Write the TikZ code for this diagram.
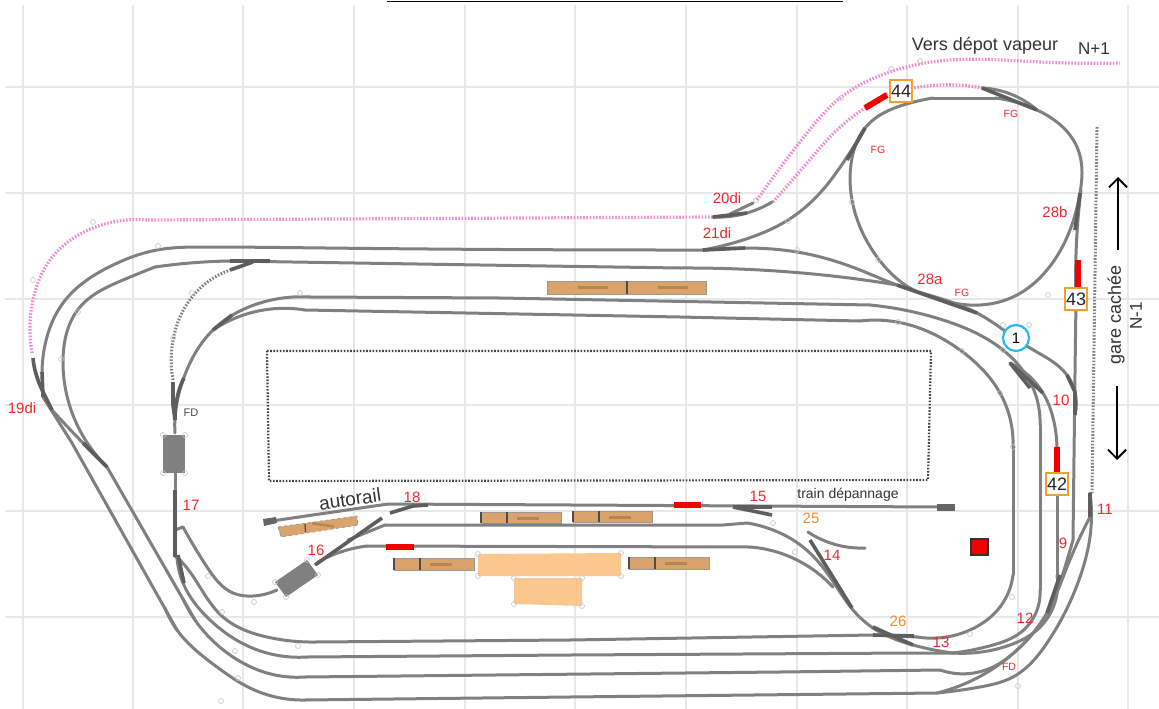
\documentclass[tikz,border=0pt]{standalone}
\usepackage{fontspec}
\setmainfont{Liberation Sans}
\usetikzlibrary{arrows.meta,hobby}
\definecolor{trk}{HTML}{808080}
\definecolor{trkd}{HTML}{5E5E5E}
\definecolor{gridc}{HTML}{E8E8E8}
\definecolor{pinkd}{HTML}{F08CCF}
\definecolor{brownb}{HTML}{D9A36B}
\definecolor{peach}{HTML}{FBC78F}
\definecolor{redt}{HTML}{F0282D}
\definecolor{oranget}{HTML}{F08C32}
\definecolor{boxo}{HTML}{F0A030}
\tikzset{
  x=1pt,y=-1pt,
  gridline/.style={gridc,line width=1.1pt},
  track/.style={trk,line width=3pt,line cap=round,line join=round,use Hobby shortcut},
  dark/.style={trkd,line width=3.6pt,line cap=butt},
  pinktrack/.style={pinkd,line width=3.2pt,dash pattern=on 1.6pt off 1.6pt,use Hobby shortcut},
  graytrack/.style={gray,line width=3pt,dash pattern=on 1.6pt off 1.6pt,use Hobby shortcut},
  redseg/.style={red!95!black,line width=6pt},
  handle/.style={draw=gray!45,line width=.6pt,circle,inner sep=0pt,minimum size=5pt},
  bench/.style={draw=gray!80,line width=.8pt,fill=brownb},
  benchmark/.style={brown!70!black,opacity=.4},
  lab/.style={text=redt,font=\fontsize{15}{15}\selectfont,inner sep=0pt},
  labs/.style={text=redt,font=\fontsize{10.5}{10.5}\selectfont,inner sep=0pt},
  labo/.style={text=oranget,font=\fontsize{15}{15}\selectfont,inner sep=0pt},
  txt/.style={text=black!80,font=\fontsize{18}{18}\selectfont,inner sep=0pt},
  numbox/.style={draw=boxo,line width=1.8pt,fill=white,minimum size=22pt,inner sep=0pt,font=\fontsize{18}{18}\selectfont,text=black!85},
}
\begin{document}
\begin{tikzpicture}
\useasboundingbox (0,0) rectangle (1159,709);
\fill[white] (0,0) rectangle (1159,709);
% grid
\foreach \x in {23,133,243,354,465,575,686,797,907,1018,1128}
  \draw[gridline] (\x,5) -- (\x,709);
\foreach \y in {87,193,299,405,511,617}
  \draw[gridline] (5,\y) -- (1159,\y);
% top rule
\draw[black,line width=1.8pt] (387,1.5) -- (843,1.5);
% dotted layout rectangle
\draw[black!75,line width=2.2pt,dash pattern=on 1.6pt off 1.6pt] (267,351) -- (931,351) -- (928,480) -- (269,481) -- cycle;
% benches
\draw[bench] (547,281) rectangle (706,294);
\draw[black!70,line width=1.2pt] (627,281) -- (627,294);
\fill[benchmark] (578,286) rectangle (608,288.5);
\fill[benchmark] (658,286) rectangle (688,288.5);
\foreach \a/\b/\c/\d/\e in {481/507/561/512/523,573/599/652/511/522,394/420/474/558/570,629/655/709/557/569}{
  \draw[bench] (\a,\d) rectangle (\c,\e);
  \draw[black!70,line width=1.2pt] (\b,\d) -- (\b,\e);
  \draw[black!70,line width=1.2pt] (\a,\d) -- (\a,\e);
  \fill[benchmark] (\b+10,\d+5) rectangle (\b+32,\d+7.5);
}
\draw[bench,dashed] (278,527) -- (357,516) -- (358,525) -- (281,537) -- cycle;
\draw[black!70,line width=1.2pt] (305,524) -- (305.5,532);
\fill[benchmark,rotate around={-8:(322,525)}] (312,523.5) rectangle (334,526);
\fill[peach] (478,554) -- (621,553) -- (621,576) -- (478,576) -- cycle;
\fill[peach] (514,578) -- (582,578) -- (582,606) -- (514,604) -- cycle;
\fill[trk] (163,435) rectangle (185,473);
\fill[trk] (275,582) -- (307,560) -- (318,575) -- (286,597) -- cycle;
% pink dotted tracks
\draw[pinktrack] (757,200) .. (807,133) .. (840,98) .. (890,72) .. (925,63) .. (1040,62) .. (1120,63);
\draw[pinktrack] (773,202) .. (807,163) .. (837,130) .. (865,108);
\draw[pinktrack] (883,95) .. (913,88) .. (957,85) .. (982,88);
\draw[pinktrack] (32,353) .. (33,300) .. (50,260) .. (93,228) .. (148,220);
\draw[pinkd,line width=3.2pt,dash pattern=on 1.6pt off 1.6pt] (148,220) -- (713,217);
% gray dotted
\draw[graytrack] (173,380) .. (173,340) .. (192,297) .. (230,270);
\draw[gray,line width=3pt,dash pattern=on 1.6pt off 1.6pt] (1097,127) -- (1092,493);
% long tracks
\draw[track] (42,372) .. (45,345) .. (63,303) .. (113,265) .. (157,250) .. (205,247) .. (325,248) .. (703,250);
\draw[track] (703,250) .. (745,248) .. (797,252) .. (860,270) .. (897,285) .. (977,313) .. (1030,348) .. (1067,375) .. (1075,392) .. (1075,415);
\draw[track] (155,267) .. (123,280) .. (80,307) .. (63,360) .. (68,400) .. (107,467);
\draw[track] (107,467) -- (195,620);
\draw[track] (183,599) .. (195,620) .. (233,657) .. (267,673) .. (305,677);
\draw[track] (305,677) -- (780,672) -- (940,670);
\draw[track] (940,670) .. (993,667) .. (1017,650) .. (1047,613) .. (1065,567) .. (1073,540);
\draw[track] (1073,540) -- (1075,373) -- (1076,300);
\draw[track] (1076,300) .. (1077,233) .. (1081,190);
\draw[track] (155,267) .. (190,263) .. (230,261);
\draw[track] (230,261) -- (480,265) -- (680,268);
\draw[track] (680,268) .. (790,272) .. (857,279) .. (897,285);
\draw[track] (43,397) -- (72,443) -- (177,630);
\draw[track] (165,608) .. (177,630) .. (217,667) .. (250,688) .. (305,700);
\draw[track] (305,700) -- (570,697) -- (937,693);
\draw[track] (937,693) .. (980,687) .. (1013,677) .. (1047,643) .. (1080,577) .. (1090,537) .. (1090,493);
\draw[track] (175,433) .. (175,417) .. (183,380) .. (213,330) .. (260,303) .. (310,297);
\draw[track] (310,297) -- (500,298) -- (870,305);
\draw[track] (870,305) .. (943,320) .. (1003,350) .. (1033,388) .. (1040,425);
\draw[track] (1040,425) -- (1040,590);
\draw[track] (1040,590) .. (1020,633) .. (993,645) .. (953,653);
\draw[track] (213,330) .. (250,313) .. (305,310);
\draw[track] (305,310) -- (680,317) -- (860,321);
\draw[track] (860,321) .. (897,322) .. (960,350) .. (1000,393) .. (1013,447);
\draw[track] (1013,447) -- (1013,575);
\draw[track] (1013,575) .. (1000,607) .. (970,630) .. (917,637);
\draw[track] (917,637) -- (873,635) -- (570,640) -- (315,642);
\draw[track] (315,642) .. (267,637) .. (223,617) .. (187,568) .. (177,557);
\draw[track] (177,557) .. (183,583) .. (210,620) .. (250,647) .. (307,657);
\draw[track] (307,657) -- (570,655) -- (913,653) -- (953,653);
\draw[track] (953,653) .. (1010,645) .. (1037,630) .. (1057,575);
\draw[track] (1057,575) -- (1057,447);
\draw[track] (1057,447) .. (1055,427) .. (1043,393) .. (1010,363);
\draw[track] (175,473) -- (175,557);
\draw[track] (183,527) .. (207,567) .. (233,593) .. (253,596) .. (277,590);
\draw[track] (175,530) -- (183,527);
\draw[track] (52,410) .. (83,443) .. (107,467);
% lower right crossover
\draw[track] (937,693) .. (973,680) .. (1017,650) .. (1047,613) .. (1067,567) .. (1090,517);
% circle loop
\draw[track] (937,298) .. (910,288) .. (877,257) .. (852,200) .. (852,158) .. (865,128) .. (910,103) .. (933,98);
\draw[track] (933,98) -- (995,98);
\draw[track] (995,98) .. (1037,110) .. (1077,147) .. (1082,173) .. (1080,193) .. (1070,230) .. (1047,270) .. (1013,297) .. (980,305) .. (937,298);
\draw[track] (982,88) .. (1013,95) .. (1037,110);
\draw[track] (703,250) .. (743,240) .. (788,220) .. (820,193) .. (843,163) .. (865,128);
\draw[track] (713,217) .. (747,213) .. (772,202);
\draw[track] (730,214) -- (753,203);
% yard
\draw[track] (388,504) -- (940,507);
\draw[track] (265,522) -- (388,504);
\draw[track] (385,525) -- (723,525) -- (747,523);
\draw[track] (747,523) .. (773,530) .. (803,547) .. (830,577) .. (853,610) .. (873,628) .. (913,645) .. (953,653);
\draw[track] (318,562) .. (347,550) .. (367,546);
\draw[track] (367,546) -- (750,547);
\draw[track] (750,547) .. (797,560) .. (833,587);
\draw[track] (808,532) .. (837,545) .. (865,548);
\draw[track] (348,540) -- (385,525);
% dark switch parts
\draw[dark] (413,506) -- (428,505);
\draw[dark] (390,513) -- (413,506);
\draw[dark] (315,565) -- (382,518);
\draw[dark] (733,507) -- (772,507);
\draw[dark] (733,507) -- (772,515);
\draw[dark] (810,540) -- (852,608);
\draw[dark] (873,635) -- (914,636);
\draw[dark] (873,627) -- (913,645);
\draw[dark] (33,358) .. controls (35,380) and (45,395) .. (52,410);
\draw[dark] (83,443) -- (107,467);
\draw[dark] (42,372) -- (43,397);
\draw[dark] (173,382) -- (173,405) -- (175,420);
\draw[dark] (175,420) .. controls (175,400) and (180,385) .. (184,378);
\draw[dark] (230,261) -- (270,261);
\draw[dark] (230,270) -- (253,262);
\draw[dark] (213,330) -- (232,315);
\draw[dark] (175,490) -- (175,557);
\draw[dark] (178,555) -- (184,583);
\draw[dark] (703,250) -- (745,248);
\draw[dark] (713,217) -- (747,213);
\draw[dark] (897,285) -- (977,313);
\draw[dark] (982,88) -- (1037,110);
\draw[dark] (865,128) -- (847,160);
\draw[dark] (1075,392) -- (1075,415);
\draw[dark] (1067,375) -- (1075,392);
\draw[dark] (1010,363) -- (1043,393);
\draw[dark] (1010,363) -- (1030,388);
\draw[dark] (1090,493) -- (1090,517);
\draw[dark] (1080,193) -- (1075,230);
\draw[dark] (1047,613) -- (1060,575);
% red sections
\draw[redseg] (674,505) -- (701,505);
\draw[redseg] (386,547) -- (414,547);
\draw[redseg] (865,108) -- (887,95);
\draw[redseg] (1078,260) -- (1078,288);
\draw[redseg] (1057,447) -- (1057,472);
\fill[red!95!black,draw=black!80,line width=1.4pt] (971,539) rectangle (988,555);
% rail vehicles
\fill[gray!80!black] (263,519) -- (276,517) -- (277,523) -- (264,526) -- cycle;
\fill[gray!80!black] (937,504) rectangle (955,511);
% handles
\foreach \p/\q in {920/61,891/69,841/98,756/200,852/202,878/260,788/221,797/250,1003/325,1029/325,1048/295,962/351,1003/350,1000/393,1013/447,1012/597,970/634,1018/686,795/552,898/322,93/222,158/246,33/280,78/312,61/359,300/293,192/293,173/338,208/576,254/602,222/612,298/646,235/651,238/678,221/701,773/523,275/582,307/560,318/575,286/597,163/435,185/435,163/473,185/473,478/554,621/553,621/576,478/576,514/578,582/578,582/606,514/604}
  \node[handle] (h\p x\q) at (\p,\q) {};
% boxes and labels
\node[numbox] (b44) at (901,91) {44};
\node[numbox] (b43) at (1076,299) {43};
\node[numbox] (b42) at (1057,484) {42};
\node[circle,draw=cyan!85!white,line width=2.2pt,fill=white,minimum size=26pt,inner sep=0pt,font=\fontsize{15}{15}\selectfont] (c1) at (1016,338) {1};
\node[txt] (tv) at (985,46) {Vers dépot vapeur};
\node[txt,font=\fontsize{17}{17}\selectfont] (tn) at (1094,49) {N+1};
\node[txt,rotate=90] (tg) at (1116,315) {gare cachée};
\node[txt,rotate=90,font=\fontsize{17}{17}\selectfont] (tn2) at (1136,316) {N-1};
\node[txt,rotate=8,font=\fontsize{19}{19}\selectfont] (ta) at (350,499) {autorail};
\node[txt,font=\fontsize{14}{14}\selectfont] (tt) at (848,495) {train dépannage};
\node[txt,font=\fontsize{11}{11}\selectfont,text=black!70] (tfd) at (191,413) {FD};
\node[lab] (l19) at (22,408) {19di};
\node[lab] (l20) at (727,198) {20di};
\node[lab] (l21) at (717,233) {21di};
\node[labs] (lfg1) at (878,150) {FG};
\node[labs] (lfg2) at (1011,114) {FG};
\node[labs] (lfg3) at (962,293) {FG};
\node[lab] (l28b) at (1055,212) {28b};
\node[lab] (l28a) at (930,279) {28a};
\node[lab] (l10) at (1061,400) {10};
\node[lab] (l9) at (1063,543) {9};
\node[lab] (l11) at (1105,509) {11};
\node[lab] (l12) at (1025,618) {12};
\node[lab] (l13) at (941,642) {13};
\node[labs] (lfd) at (1009,667) {FD};
\node[labo] (l26) at (898,621) {26};
\node[labo] (l25) at (811,518) {25};
\node[lab] (l14) at (832,555) {14};
\node[lab] (l15) at (758,496) {15};
\node[lab] (l18) at (412,497) {18};
\node[lab] (l17) at (191,505) {17};
\node[lab] (l16) at (316,550) {16};
% direction arrows
\coordinate (u1) at (1118,250); \coordinate (u2) at (1118,177);
\coordinate (d1) at (1117,386); \coordinate (d2) at (1117,460);
\draw[black,line width=1.4pt,-{Straight Barb[length=9pt,width=18pt,line width=1.8pt]}] (u1) -- (u2);
\draw[black,line width=1.4pt,-{Straight Barb[length=9pt,width=18pt,line width=1.8pt]}] (d1) -- (d2);
\end{tikzpicture}
\end{document}
